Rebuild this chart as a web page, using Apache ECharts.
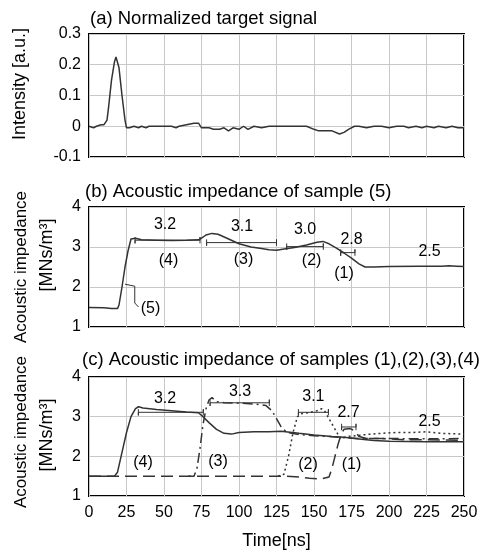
<!DOCTYPE html>
<html>
<head>
<meta charset="utf-8">
<script src="https://cdn.jsdelivr.net/npm/echarts@6/dist/echarts.min.js"></script>
<style>
  html, body { margin: 0; padding: 0; background: #fff; }
  #chart { width: 488px; height: 554px; }
</style>
</head>
<body>
<div id="chart"></div>
<script>
// (a) normalized target signal, [time ns, intensity]
const signalA = [
  [0, 0], [3, -0.005], [5, 0], [8, 0.005], [10, 0.005], [12, 0.02], [13, 0.06], [15, 0.15],
  [17, 0.21], [18, 0.225], [19, 0.22], [20, 0.19], [22, 0.1], [24, 0.02], [25, -0.005],
  [27, -0.005], [30, 0], [33, -0.005], [35, 0], [38, -0.005], [40, 0], [45, 0], [50, 0],
  [55, 0], [58, -0.005], [60, 0], [65, 0.005], [70, 0.01], [73, 0.01], [75, -0.005],
  [80, -0.005], [83, -0.01], [87, -0.01], [90, -0.005], [93, -0.015], [96, -0.005],
  [100, -0.01], [103, 0], [106, -0.01], [110, 0], [115, -0.005], [120, 0], [130, 0],
  [140, 0], [145, 0], [150, -0.01], [153, -0.015], [158, -0.015], [162, -0.015],
  [167, -0.025], [170, -0.02], [173, -0.01], [177, 0], [180, 0], [185, -0.005], [190, 0],
  [195, 0], [200, -0.005], [205, 0], [210, 0], [213, -0.005], [218, 0], [222, -0.005],
  [225, 0], [230, -0.005], [233, 0], [238, -0.005], [242, 0], [246, -0.005], [250, -0.005]
];

// (b) acoustic impedance of sample (5)
const sample5 = [
  [0, 1.49], [10, 1.48], [15, 1.46], [19, 1.46], [20, 1.55], [22, 2.0], [24, 2.5], [26, 2.9],
  [28, 3.2], [29, 3.25], [31, 3.22], [35, 3.18], [45, 3.17], [55, 3.16], [65, 3.17],
  [73, 3.18], [75, 3.22], [78, 3.3], [82, 3.34], [86, 3.32], [92, 3.22], [100, 3.08],
  [108, 3.0], [115, 2.96], [120, 2.93], [125, 2.92], [130, 2.95], [137, 2.99], [145, 3.05],
  [152, 3.12], [156, 3.14], [160, 3.08], [165, 2.97], [170, 2.85], [175, 2.72], [180, 2.58],
  [184, 2.5], [190, 2.5], [200, 2.51], [220, 2.52], [235, 2.52], [240, 2.53], [245, 2.52],
  [250, 2.51]
];
const leader5 = [[24, 2.07], [30.5, 2.02], [30.5, 1.6], [33, 1.5]];
const bracketsB = [[30.7, 74, 3.17], [78.4, 125, 3.11], [131.8, 156.2, 3.01], [167.8, 177.3, 2.86]];
const labelsB = [
  [50.7, 3.55, '3.2'], [102, 3.5, '3.1'], [144, 3.44, '3.0'], [175, 3.19, '2.8'], [227, 2.88, '2.5'],
  [53, 2.66, '(4)'], [103, 2.68, '(3)'], [148.4, 2.67, '(2)'], [170, 2.34, '(1)'], [41, 1.47, '(5)']
];

// (c) acoustic impedance of samples (1)..(4)
const sample4 = [
  [0, 1.5], [10, 1.5], [17, 1.5], [19, 1.6], [22, 2.1], [25, 2.6], [28, 3.0], [31, 3.2],
  [33, 3.25], [36, 3.22], [45, 3.18], [55, 3.15], [65, 3.12], [73, 3.1], [76, 3.0],
  [80, 2.85], [85, 2.68], [90, 2.58], [95, 2.56], [100, 2.6], [110, 2.62], [120, 2.62],
  [128, 2.63], [140, 2.58], [150, 2.54], [162, 2.5], [170, 2.48], [180, 2.44], [190, 2.4],
  [200, 2.38], [225, 2.37], [250, 2.37]
];
const sample3 = [
  [66, 1.5], [70, 1.5], [72, 1.7], [74, 2.2], [76, 2.8], [78, 3.2], [80, 3.42], [82, 3.48],
  [85, 3.38], [90, 3.35], [100, 3.34], [110, 3.32], [118, 3.28], [122, 3.15], [125, 2.95],
  [128, 2.75], [132, 2.6], [140, 2.55], [150, 2.52], [160, 2.5], [170, 2.47], [180, 2.45],
  [200, 2.45], [225, 2.44], [250, 2.45]
];
const sample2 = [
  [126, 1.5], [130, 1.55], [133, 2.0], [136, 2.6], [139, 3.0], [142, 3.08], [147, 3.1],
  [152, 3.15], [155, 3.2], [157, 3.15], [160, 2.95], [163, 2.75], [166, 2.55], [168, 2.45],
  [172, 2.5], [178, 2.52], [185, 2.55], [195, 2.58], [205, 2.6], [215, 2.6], [225, 2.62],
  [235, 2.58], [250, 2.56]
];
const sample1 = [
  [0, 1.5], [50, 1.5], [100, 1.5], [130, 1.5], [140, 1.48], [147, 1.45], [155, 1.43],
  [160, 1.48], [162, 1.7], [164, 2.0], [166, 2.3], [168, 2.55], [170, 2.68], [174, 2.7],
  [177, 2.65], [180, 2.5], [185, 2.45], [195, 2.45], [210, 2.42], [225, 2.42], [250, 2.4]
];
const bracketsC = [[32.9, 76.2, 3.11], [80.7, 120.2, 3.35], [139.6, 159.6, 3.11], [168.4, 178, 2.74]];
const labelsC = [
  [50.7, 3.45, '3.2'], [100.7, 3.62, '3.3'], [149.6, 3.5, '3.1'], [173, 3.1, '2.7'], [227, 2.88, '2.5'],
  [36, 1.84, '(4)'], [86, 1.86, '(3)'], [146, 1.8, '(2)'], [175, 1.8, '(1)']
];

const FONT = "'Liberation Sans', Arial, sans-serif";
const INK = '#333';

function bracket(b) {
  const [t1, t2, v] = b;
  const c = 0.08;
  return [[t1, v + c], [t1, v - c], [t1, v], [t2, v], [t2, v + c], [t2, v - c]];
}

function line(data, idx, dash, width) {
  return {
    type: 'line', xAxisIndex: idx, yAxisIndex: idx, data: data,
    symbol: 'none', animation: false, silent: true,
    lineStyle: { color: INK, width: width || 1.5, type: dash || 'solid' }
  };
}

function labels(data, idx) {
  return {
    type: 'scatter', xAxisIndex: idx, yAxisIndex: idx, data: data,
    symbolSize: 0, itemStyle: { color: '#000' }, animation: false, silent: true, z: 10,
    label: {
      show: true, position: [0, 0], align: 'center', verticalAlign: 'middle',
      formatter: p => p.data[2],
      color: '#000', opacity: 1, textBorderWidth: 0, fontSize: 16, fontFamily: FONT
    }
  };
}

const grids = [
  { left: 89, right: 24, top: 34, height: 123 },
  { left: 89, right: 24, top: 207, height: 120 },
  { left: 89, right: 24, top: 377, height: 119 }
].map(g => Object.assign(g, { show: true, borderColor: '#000', borderWidth: 2 }));

const splitLine = { show: true, lineStyle: { color: '#c8c8c8', width: 1 } };
const tickLabel = { color: '#000', fontSize: 16, fontFamily: FONT, margin: 8 };

const xAxes = [0, 1, 2].map(i => ({
  type: 'value', gridIndex: i, min: 0, max: 250, interval: 25,
  axisLine: { show: false }, axisTick: { show: false }, splitLine: splitLine,
  axisLabel: Object.assign({ show: i === 2 }, tickLabel, { margin: 9 }),
  name: i === 2 ? 'Time[ns]' : '', nameLocation: 'middle', nameGap: 36,
  nameTextStyle: { color: '#000', fontSize: 18, fontFamily: FONT }
}));

const yAxes = [
  { type: 'value', gridIndex: 0, min: -0.1, max: 0.3, interval: 0.1 },
  { type: 'value', gridIndex: 1, min: 1, max: 4, interval: 1 },
  { type: 'value', gridIndex: 2, min: 1, max: 4, interval: 1 }
].map(a => Object.assign(a, {
  axisLine: { show: false }, axisTick: { show: false }, splitLine: splitLine, axisLabel: tickLabel
}));

const titleStyle = { color: '#000', fontSize: 18.5, fontWeight: 'normal', fontFamily: FONT };

function yName(text, x, y, size) {
  return {
    type: 'text', x: x, y: y, rotation: Math.PI / 2,
    style: { text: text, fill: '#000', font: (size || 17) + 'px ' + FONT, textAlign: 'center', textVerticalAlign: 'middle' }
  };
}

const series = [
  line(signalA, 0),
  line(sample5, 1),
  line(leader5, 1, 'solid', 1),
  ...bracketsB.map(b => line(bracket(b), 1, 'solid', 1)),
  labels(labelsB, 1),
  line(sample1, 2, [12, 6]),
  line(sample2, 2, [2, 3]),
  line(sample3, 2, [10, 4, 2, 4]),
  line(sample4, 2),
  ...bracketsC.map(b => line(bracket(b), 2, 'solid', 1)),
  labels(labelsC, 2)
];

const chart = echarts.init(document.getElementById('chart'));
chart.setOption({
  backgroundColor: '#fff',
  animation: false,
  title: [
    { text: '(a) Normalized target signal', left: 90, top: 9, padding: 0, textStyle: titleStyle },
    { text: '(b) Acoustic impedance of sample (5)', left: 85, top: 182, padding: 0, textStyle: titleStyle },
    { text: '(c) Acoustic impedance of samples (1),(2),(3),(4)', left: 82, top: 350, padding: 0, textStyle: titleStyle }
  ],
  grid: grids,
  xAxis: xAxes,
  yAxis: yAxes,
  graphic: [
    yName('Intensity [a.u.]', 20, 84, 18),
    yName('Acoustic impedance', 21, 267),
    yName('[MNs/m\u00b3]', 47, 255, 18),
    yName('Acoustic impedance', 21, 432),
    yName('[MNs/m\u00b3]', 47, 435, 18)
  ],
  series: series
});
</script>
</body>
</html>
